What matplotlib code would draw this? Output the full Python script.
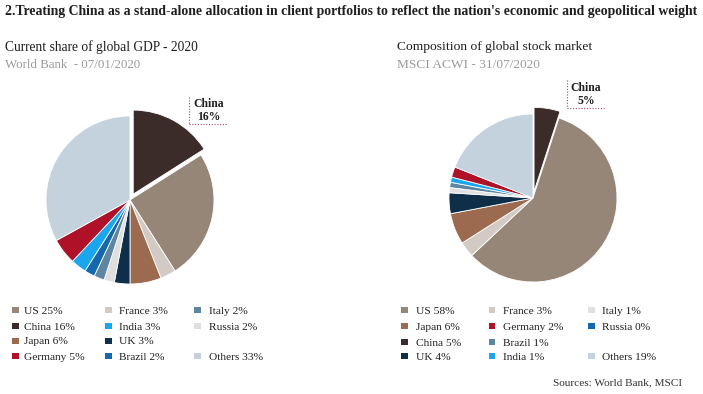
import matplotlib
matplotlib.use("Agg")
import matplotlib.pyplot as plt
from matplotlib.patches import Rectangle
from matplotlib.lines import Line2D

# ---------------- data ----------------
gdp_names = ["China", "US", "France", "Japan", "UK", "Russia", "Italy", "Brazil", "India", "Germany", "Others"]
gdp_values = [16, 25, 3, 6, 3, 2, 2, 2, 3, 5, 33]

msci_names = ["China", "US", "France", "Japan", "UK", "Italy", "Russia", "Brazil", "India", "Germany", "Others"]
msci_values = [5, 58, 3, 6, 4, 1, 0, 1, 1, 2, 19]

gdp_legend = [["US", "China", "Japan", "Germany"],
              ["France", "India", "UK", "Brazil"],
              ["Italy", "Russia", None, "Others"]]
msci_legend = [["US", "Japan", "China", "UK"],
               ["France", "Germany", "Brazil", "India"],
               ["Italy", "Russia", None, "Others"]]

title = "2.Treating China as a stand-alone allocation in client portfolios to reflect the nation's economic and geopolitical weight"
left_title = "Current share of global GDP - 2020"
left_sub = "World Bank  - 07/01/2020"
right_title = "Composition of global stock market"
right_sub = "MSCI ACWI - 31/07/2020"
source = "Sources: World Bank, MSCI"

gdp_colors = {"US": "#968678", "China": "#3b2c2a", "France": "#d3c9c5", "Japan": "#9c6a4f",
              "UK": "#0e2e4a", "Russia": "#e0dfe0", "Italy": "#5d87a1", "Brazil": "#1468ae",
              "India": "#1aa6ee", "Germany": "#ae1128", "Others": "#c4d2dd"}
msci_colors = dict(gdp_colors)
msci_colors.update({"Italy": "#e0e0e0", "Russia": "#1468ae", "Brazil": "#5d87a1"})

# ---------------- figure ----------------
W, H = 703, 394
fig = plt.figure(figsize=(W / 100, H / 100), dpi=100)
fig.patch.set_facecolor("white")
FONT = ["Liberation Serif", "DejaVu Serif"]
DARK = "#1e1e1e"
GREY = "#9a9a9a"


def fx(x):
    return x / W


def fy(y):
    return 1 - y / H


def txt(x, y, s, **kw):
    kw.setdefault("family", FONT)
    kw.setdefault("color", DARK)
    kw.setdefault("va", "center")
    return fig.text(fx(x), fy(y), s, **kw)


def fit_width(t, target):
    for _ in range(4):
        fig.canvas.draw()
        w = t.get_window_extent(fig.canvas.get_renderer()).width
        t.set_fontsize(t.get_fontsize() * target / w)


t = txt(5, 12, title, fontsize=8.6, weight="bold")
fit_width(t, 692)

txt(5, 47, left_title, fontsize=9.75)
txt(5, 65, left_sub, fontsize=9.3, color=GREY)
txt(397, 47, right_title, fontsize=9.7)
txt(397, 65, right_sub, fontsize=9.6, color=GREY)
txt(682, 383, source, fontsize=8.1, ha="right", color="#333333")


def draw_pie(cx, cy, rad, names, values, colors):
    s = 2 * rad * 1.1
    ax = fig.add_axes([fx(cx - s / 2), fy(cy + s / 2), s / W, s / H])
    explode = [0.08 if n == "China" else 0 for n in names]
    ax.pie(values, colors=[colors[n] for n in names], startangle=90, counterclock=False,
           explode=explode, wedgeprops=dict(edgecolor="white", linewidth=0.6))
    ax.set_xlim(-1.1, 1.1)
    ax.set_ylim(-1.1, 1.1)
    ax.set_aspect("equal")
    ax.axis("off")


draw_pie(130, 200, 84, gdp_names, gdp_values, gdp_colors)
draw_pie(533, 198, 84, msci_names, msci_values, msci_colors)


def callout(vx, ytop, ybot, xr, label_x, y1, y2, value):
    col = "#a3485e"
    fig.add_artist(Line2D([fx(vx), fx(vx)], [fy(ytop), fy(ybot)], color=col, lw=0.8, ls=(0, (1, 1.5))))
    fig.add_artist(Line2D([fx(vx), fx(xr)], [fy(ybot), fy(ybot)], color=col, lw=0.8, ls=(0, (1, 1.5))))
    txt(label_x, y1, "China", fontsize=8.4, weight="bold", ha="center")
    txt(label_x, y2, f"{value}%", fontsize=8.4, weight="bold", ha="center")


callout(189, 97, 124, 227, 209, 104, 117, gdp_values[gdp_names.index("China")])
callout(567, 80, 108, 604, 586, 88, 101, msci_values[msci_names.index("China")])


def legend(sq_x, txt_x, rows_y, cols, names, values, colors, fs=8.2):
    val = dict(zip(names, values))
    for ci, col in enumerate(cols):
        for ri, n in enumerate(col):
            if n is None:
                continue
            y = rows_y[ri]
            sq = 6.5
            fig.add_artist(Rectangle((fx(sq_x[ci]), fy(y + sq / 2 - 1)), sq / W, sq / H,
                                     facecolor=colors[n], edgecolor="none"))
            txt(txt_x[ci], y, f"{n} {val[n]}%", fontsize=fs)


legend([12, 105, 194], [24, 119, 209], [311, 327, 342, 357], gdp_legend,
       gdp_names, gdp_values, gdp_colors)
legend([401, 489, 588], [416, 503, 602], [311, 327, 343, 357], msci_legend,
       msci_names, msci_values, msci_colors)

fig.savefig("out.png", dpi=100, facecolor="white")
